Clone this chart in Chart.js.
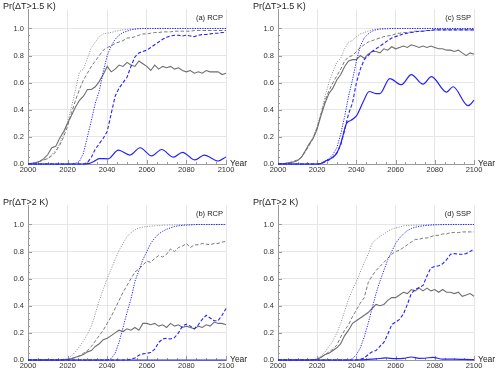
<!DOCTYPE html>
<html lang="en">
<head>
<meta charset="UTF-8">
<title>Pr(ΔT) panels</title>
<script src="https://cdn.jsdelivr.net/npm/chart.js"></script>
<style>
  body { margin: 0; background: #fff; width: 500px; height: 372px; overflow: hidden; position: relative; }
  canvas { position: absolute; }
</style>
</head>
<body>
<canvas id="pa" width="250" height="176" style="left:0;top:0"></canvas>
<canvas id="pc" width="250" height="176" style="left:250px;top:0"></canvas>
<canvas id="pb" width="250" height="176" style="left:0;top:196px"></canvas>
<canvas id="pd" width="250" height="176" style="left:250px;top:196px"></canvas>
<script>
// shared year grid (every 2 years)
const YEARS = [2000,2002,2004,2006,2008,2010,2012,2014,2016,2018,
  2020,2022,2024,2026,2028,2030,2032,2034,2036,2038,
  2040,2042,2044,2046,2048,2050,2052,2054,2056,2058,
  2060,2062,2064,2066,2068,2070,2072,2074,2076,2078,
  2080,2082,2084,2086,2088,2090,2092,2094,2096,2098,
  2100];
const X_TICKS = [2000, 2020, 2040, 2060, 2080, 2100];
const Y_TICKS = [0, 0.2, 0.4, 0.6, 0.8, 1.0];

// (a) RCP, dT > 1.5 K
const aGrayDot = [0,0.005,0.01,0.02,0.03,0.04,0.07,0.10,0.15,0.22,
  0.31,0.42,0.55,0.68,0.70,0.78,0.86,0.90,0.94,0.96,
  0.965,0.97,0.98,0.985,0.99,0.993,0.996,0.998,1,1,
  1,1,1,1,1,1,1,1,1,1,
  1,1,1,1,1,1,1,1,1,1,
  1];
const aGrayDash = [0,0.005,0.01,0.02,0.03,0.04,0.06,0.09,0.14,0.20,
  0.28,0.38,0.47,0.55,0.62,0.67,0.72,0.76,0.80,0.84,
  0.86,0.87,0.89,0.90,0.91,0.93,0.93,0.94,0.95,0.96,
  0.96,0.965,0.97,0.97,0.975,0.975,0.975,0.98,0.98,0.98,
  0.98,0.98,0.985,0.985,0.985,0.985,0.985,0.985,0.985,0.985,
  0.985];
const aGraySolid = [0,0.005,0.01,0.02,0.04,0.07,0.12,0.13,0.19,0.24,
  0.30,0.36,0.42,0.47,0.50,0.55,0.55,0.57,0.61,0.66,
  0.72,0.68,0.70,0.73,0.72,0.75,0.73,0.72,0.76,0.74,
  0.72,0.69,0.73,0.70,0.72,0.71,0.72,0.70,0.71,0.69,
  0.68,0.69,0.67,0.68,0.67,0.69,0.68,0.68,0.68,0.66,
  0.67];
const aBlueDot = [0,0,0,0,0,0,0,0,0,0,
  0,0,0.005,0.02,0.08,0.20,0.32,0.45,0.54,0.68,
  0.80,0.87,0.92,0.95,0.97,0.98,0.99,0.995,0.998,1,
  1,1,1,1,1,1,1,1,1,1,
  1,1,1,1,1,1,1,1,1,1,
  1];
const aBlueDash = [0,0,0,0,0,0,0,0,0,0,
  0,0,0,0,0,0.01,0.05,0.11,0.15,0.19,
  0.24,0.37,0.50,0.56,0.60,0.64,0.72,0.79,0.82,0.83,
  0.84,0.86,0.88,0.90,0.92,0.935,0.945,0.95,0.95,0.945,
  0.95,0.945,0.94,0.95,0.955,0.955,0.96,0.965,0.965,0.97,
  0.97];
const aBlueSolidYears = [2000,2028,2031,2034,2036,2040.5,2045.6,2051.5,2056.6,2062.5,2067.5,2073.4,2078,2084.3,2089,2096,2100];
const aBlueSolid = [0,0,0.005,0.025,0.04,0.038,0.103,0.066,0.12,0.06,0.107,0.05,0.086,0.03,0.066,0.022,0.052];

// (c) SSP, dT > 1.5 K
const cGrayDot = [0,0.002,0.005,0.01,0.02,0.03,0.05,0.10,0.15,0.20,
  0.28,0.38,0.50,0.60,0.68,0.75,0.78,0.85,0.90,0.91,
  0.94,0.96,0.97,0.98,0.99,0.995,0.998,1,1,1,
  1,1,1,1,1,1,1,1,1,1,
  1,1,1,1,1,1,1,1,1,1,
  1];
const cGrayDash = [0,0.002,0.005,0.01,0.02,0.03,0.05,0.09,0.14,0.19,
  0.27,0.37,0.47,0.54,0.60,0.65,0.70,0.76,0.79,0.80,
  0.83,0.86,0.88,0.90,0.91,0.92,0.93,0.94,0.945,0.95,
  0.96,0.965,0.97,0.97,0.975,0.98,0.98,0.98,0.985,0.985,
  0.99,0.99,0.99,0.99,0.99,0.99,0.99,0.99,0.99,0.99,
  0.99];
const cGraySolid = [0,0.002,0.005,0.01,0.015,0.025,0.05,0.10,0.15,0.19,
  0.26,0.36,0.45,0.52,0.56,0.62,0.66,0.72,0.76,0.77,
  0.77,0.80,0.78,0.81,0.83,0.83,0.82,0.85,0.84,0.865,
  0.85,0.86,0.87,0.86,0.88,0.87,0.86,0.87,0.86,0.87,
  0.86,0.85,0.85,0.84,0.84,0.83,0.84,0.82,0.80,0.82,
  0.81];
const cBlueDot = [0,0,0,0,0,0,0,0,0,0,
  0,0.005,0.02,0.04,0.07,0.12,0.22,0.35,0.50,0.62,
  0.76,0.87,0.93,0.96,0.98,0.99,0.995,0.997,0.998,1,
  1,1,1,1,1,1,1,1,1,1,
  1,1,1,1,1,1,1,1,1,1,
  1];
const cBlueDash = [0,0,0,0,0,0,0,0,0,0,
  0,0.003,0.015,0.03,0.05,0.08,0.14,0.25,0.37,0.45,
  0.60,0.70,0.77,0.80,0.83,0.85,0.87,0.89,0.91,0.93,
  0.94,0.95,0.96,0.965,0.97,0.975,0.98,0.98,0.985,0.985,
  0.99,0.99,0.99,0.99,0.99,0.99,0.99,0.99,0.99,0.99,
  0.99];
const cBlueSolidYears = [2000,2021,2024,2028,2030,2032,2035,2037,2040,2043.5,2046.5,2050,2052,2057,2063,2068,2074,2078.3,2086,2089.3,2097,2100];
const cBlueSolid = [0,0,0.02,0.05,0.08,0.15,0.30,0.32,0.355,0.46,0.535,0.52,0.52,0.63,0.585,0.66,0.59,0.645,0.53,0.57,0.43,0.47];

// (b) RCP, dT > 2 K
const bGrayDot = [0,0,0,0,0,0,0,0,0.002,0.005,
  0.01,0.03,0.06,0.10,0.14,0.19,0.25,0.34,0.44,0.52,
  0.60,0.67,0.74,0.81,0.86,0.91,0.94,0.96,0.975,0.98,
  0.985,0.988,0.99,0.992,0.994,0.995,0.996,0.997,0.998,0.999,
  1,1,1,1,1,1,1,1,1,1,
  1];
const bGrayDash = [0,0,0,0,0,0,0,0,0,0.002,
  0.005,0.01,0.02,0.03,0.05,0.07,0.10,0.14,0.18,0.22,
  0.27,0.32,0.38,0.44,0.50,0.55,0.60,0.65,0.67,0.70,
  0.73,0.72,0.75,0.77,0.76,0.78,0.82,0.80,0.83,0.84,
  0.86,0.83,0.85,0.85,0.86,0.855,0.85,0.86,0.86,0.87,
  0.875];
const bGraySolid = [0,0,0,0,0,0,0,0,0,0.002,
  0.005,0.01,0.02,0.03,0.04,0.06,0.07,0.10,0.12,0.15,
  0.16,0.18,0.20,0.22,0.21,0.23,0.22,0.24,0.22,0.27,
  0.27,0.26,0.27,0.25,0.26,0.24,0.27,0.25,0.26,0.24,
  0.25,0.24,0.23,0.25,0.24,0.26,0.25,0.28,0.27,0.27,
  0.26];
const bBlueDot = [0,0,0,0,0,0,0,0,0,0,
  0,0,0,0,0,0,0,0,0,0,
  0,0.01,0.05,0.13,0.24,0.35,0.45,0.58,0.66,0.74,
  0.80,0.86,0.90,0.93,0.95,0.965,0.975,0.985,0.99,0.993,
  0.995,0.997,0.999,1,1,1,1,1,1,1,
  1];
const bBlueDash = [0,0,0,0,0,0,0,0,0,0,
  0,0,0,0,0,0,0,0,0,0,
  0,0,0,0,0,0,0.005,0.015,0.035,0.045,
  0.05,0.055,0.08,0.13,0.155,0.16,0.155,0.165,0.20,0.25,
  0.265,0.25,0.23,0.26,0.30,0.33,0.31,0.29,0.29,0.33,
  0.38];
const bBlueSolidYears = [2000, 2100];
const bBlueSolid = [0, 0];

// (d) SSP, dT > 2 K
const dGrayDot = [0,0,0,0,0,0,0,0,0,0.003,
  0.01,0.03,0.06,0.10,0.14,0.20,0.27,0.36,0.45,0.52,
  0.58,0.65,0.72,0.78,0.86,0.89,0.91,0.93,0.95,0.965,
  0.975,0.98,0.99,0.992,0.994,0.995,0.996,0.997,0.998,0.999,
  1,1,1,1,1,1,1,1,1,1,
  1];
const dGrayDash = [0,0,0,0,0,0,0,0,0,0.002,
  0.005,0.02,0.04,0.06,0.08,0.11,0.17,0.22,0.26,0.32,
  0.37,0.42,0.46,0.57,0.62,0.66,0.69,0.72,0.75,0.78,
  0.80,0.81,0.83,0.85,0.87,0.89,0.89,0.90,0.90,0.91,
  0.92,0.92,0.93,0.93,0.94,0.94,0.94,0.945,0.945,0.945,
  0.945];
const dGraySolid = [0,0,0,0,0,0,0,0,0,0.002,
  0.005,0.02,0.04,0.05,0.07,0.09,0.12,0.18,0.22,0.27,
  0.29,0.31,0.33,0.35,0.38,0.41,0.40,0.41,0.44,0.46,
  0.46,0.48,0.50,0.49,0.52,0.51,0.53,0.51,0.53,0.51,
  0.52,0.50,0.52,0.50,0.50,0.49,0.50,0.47,0.48,0.49,
  0.47];
const dBlueDot = [0,0,0,0,0,0,0,0,0,0,
  0,0,0,0,0,0,0,0,0,0.01,
  0.04,0.09,0.17,0.27,0.38,0.49,0.58,0.66,0.74,0.80,
  0.86,0.90,0.93,0.955,0.97,0.98,0.985,0.99,0.993,0.995,
  0.997,0.998,0.999,1,1,1,1,1,1,1,
  1];
const dBlueDash = [0,0,0,0,0,0,0,0,0,0,
  0,0,0,0,0,0,0,0,0,0,
  0,0.005,0.015,0.04,0.06,0.07,0.10,0.13,0.19,0.26,
  0.28,0.30,0.34,0.41,0.49,0.52,0.535,0.55,0.62,0.68,
  0.69,0.695,0.71,0.74,0.78,0.785,0.78,0.78,0.785,0.80,
  0.82];
const dBlueSolidYears = [2000,2040,2046,2050,2055,2060,2064,2068,2072,2075,2079,2084,2090,2095,2100];
const dBlueSolid = [0,0,0.004,0.008,0.015,0.01,0.012,0.022,0.012,0.013,0.02,0.006,0.006,0.004,0.003];

const FONT = '"Liberation Sans", Arial, sans-serif';
const GRAY = '#6f6f6f';
const BLUE = '#2323ff';

const styles = {
  grayDot:   { borderColor: '#8a8a8a', borderWidth: 1, borderDash: [1, 1.5] },
  grayDash:  { borderColor: '#7a7a7a', borderWidth: 1, borderDash: [3.5, 2] },
  graySolid: { borderColor: GRAY, borderWidth: 1.1 },
  blueDot:   { borderColor: BLUE, borderWidth: 1, borderDash: [1.2, 1.3] },
  blueDash:  { borderColor: BLUE, borderWidth: 1.1, borderDash: [3.5, 2] },
  blueSolid: { borderColor: BLUE, borderWidth: 1.2, cubicInterpolationMode: 'monotone' }
};

function pts(xs, ys) { return ys.map((v, i) => ({ x: xs[i], y: v })); }

function makeSets(gDot, gDash, gSolid, bDot, bDash, bSolidX, bSolid) {
  return [
    Object.assign({ data: pts(bSolidX, bSolid) }, styles.blueSolid),
    Object.assign({ data: pts(YEARS, bDash) }, styles.blueDash),
    Object.assign({ data: pts(YEARS, bDot) }, styles.blueDot),
    Object.assign({ data: pts(YEARS, gSolid) }, styles.graySolid),
    Object.assign({ data: pts(YEARS, gDash) }, styles.grayDash),
    Object.assign({ data: pts(YEARS, gDot) }, styles.grayDot)
  ];
}

// titles, tags, frame ticks
const frame = {
  id: 'frame',
  beforeDatasetsDraw(chart) {
    const { ctx, chartArea: a, scales: { x, y } } = chart;
    ctx.save();
    ctx.strokeStyle = '#9a9a9a';
    ctx.lineWidth = 1;
    ctx.beginPath();
    for (let v = 0; v <= 1.0001; v += 0.05) {
      const py = Math.round(y.getPixelForValue(v)) + 0.5;
      const len = Math.abs(v / 0.2 - Math.round(v / 0.2)) < 0.01 ? 4 : 2;
      ctx.moveTo(a.left, py); ctx.lineTo(a.left + len, py);
    }
    for (let v = 2000; v <= 2100; v += 5) {
      const px = Math.round(x.getPixelForValue(v)) + 0.5;
      const len = v % 20 === 0 ? 4 : 2;
      ctx.moveTo(px, a.bottom); ctx.lineTo(px, a.bottom - len);
    }
    ctx.stroke();
    ctx.restore();
  },
  afterDraw(chart, args, opts) {
    const { ctx, chartArea: a } = chart;
    ctx.save();
    ctx.fillStyle = '#222';
    ctx.textBaseline = 'middle';
    ctx.textAlign = 'left';
    ctx.font = '9px ' + FONT;
    ctx.fillText(opts.title, 3, 7);
    ctx.font = '7.5px ' + FONT;
    ctx.textAlign = 'right';
    ctx.fillText(opts.tag, a.right - 3, 18);
    ctx.font = '8.5px ' + FONT;
    ctx.textAlign = 'left';
    ctx.fillText('Year', a.right + 4, a.bottom);
    ctx.restore();
  }
};

function draw(id, title, tag, padRight, sets) {
  new Chart(document.getElementById(id), {
    type: 'line',
    data: { datasets: sets },
    plugins: [frame],
    options: {
      responsive: false,
      animation: false,
      devicePixelRatio: 1,
      layout: { padding: { top: 9.5, right: padRight, left: 0, bottom: 0 } },
      elements: { point: { radius: 0 }, line: { tension: 0, fill: false } },
      datasets: { line: { clip: 4 } },
      plugins: {
        legend: { display: false },
        tooltip: { enabled: false },
        frame: { title: title, tag: tag }
      },
      scales: {
        x: {
          type: 'linear', min: 2000, max: 2100,
          afterBuildTicks: s => { s.ticks = X_TICKS.map(v => ({ value: v })); },
          afterFit: s => { s.height = 12; },
          ticks: { font: { size: 7.5, family: FONT }, color: '#333', padding: 1, maxRotation: 0, callback: v => String(v) },
          grid: { color: '#e6e6e6', drawTicks: false },
          border: { color: '#9a9a9a' }
        },
        y: {
          type: 'linear', min: 0, max: 1.14,
          afterBuildTicks: s => { s.ticks = Y_TICKS.map(v => ({ value: v })); },
          afterFit: s => { s.width = 28; },
          ticks: { font: { size: 7.5, family: FONT }, color: '#333', padding: 4, callback: v => v.toFixed(1) },
          grid: { color: '#e6e6e6', drawTicks: false },
          border: { color: '#9a9a9a' }
        }
      }
    }
  });
}

draw('pa', 'Pr(ΔT>1.5 K)', '(a) RCP', 24,
  makeSets(aGrayDot, aGrayDash, aGraySolid, aBlueDot, aBlueDash, aBlueSolidYears, aBlueSolid));
draw('pc', 'Pr(ΔT>1.5 K)', '(c) SSP', 26,
  makeSets(cGrayDot, cGrayDash, cGraySolid, cBlueDot, cBlueDash, cBlueSolidYears, cBlueSolid));
draw('pb', 'Pr(ΔT>2 K)', '(b) RCP', 24,
  makeSets(bGrayDot, bGrayDash, bGraySolid, bBlueDot, bBlueDash, bBlueSolidYears, bBlueSolid));
draw('pd', 'Pr(ΔT>2 K)', '(d) SSP', 26,
  makeSets(dGrayDot, dGrayDash, dGraySolid, dBlueDot, dBlueDash, dBlueSolidYears, dBlueSolid));
</script>
</body>
</html>
